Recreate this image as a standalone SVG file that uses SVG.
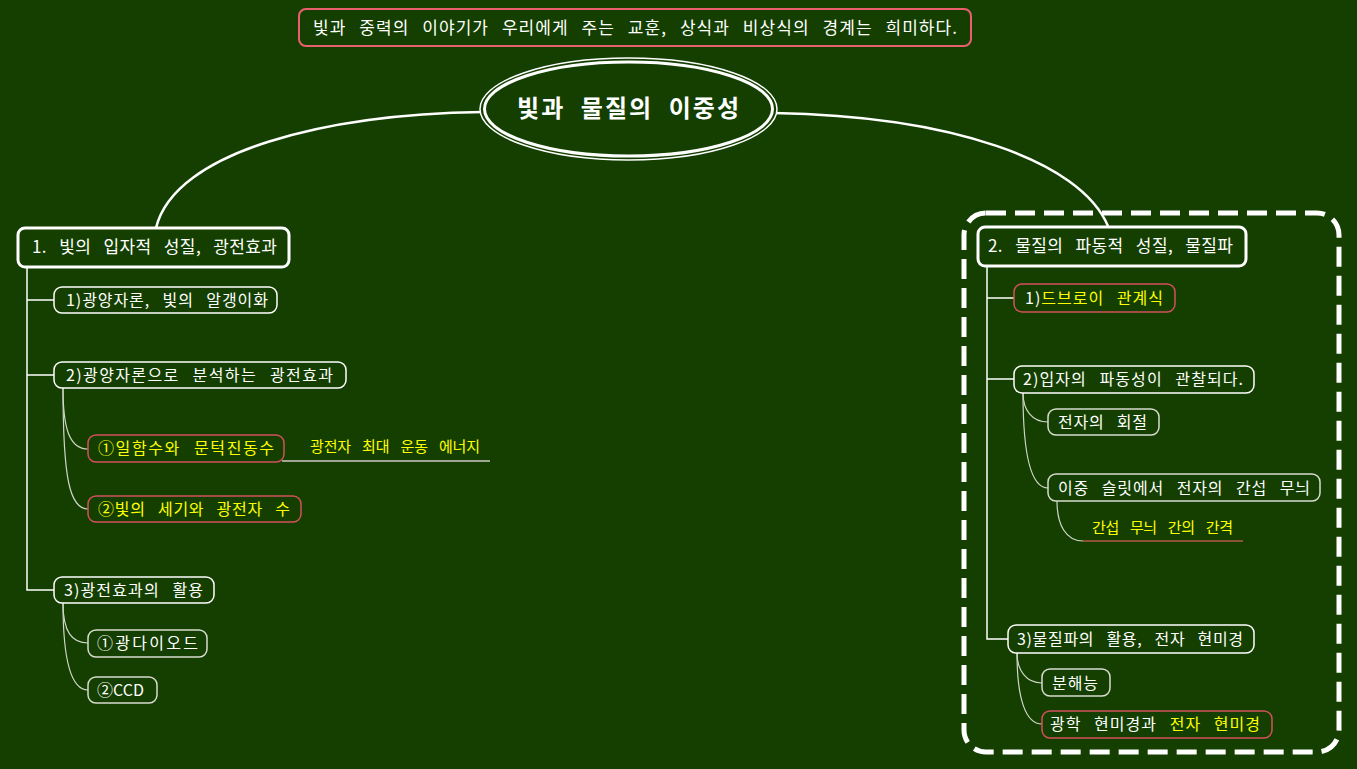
<svg xmlns="http://www.w3.org/2000/svg" width="1357" height="769" viewBox="0 0 1357 769">
<style>
text{font-family:"Noto Sans CJK KR","Malgun Gothic",sans-serif;fill:#ffffff;font-size:17px;word-spacing:8px}
.s{font-size:16px}
.l{font-size:15px}
.y{fill:#ffff00}
.box{fill:#143f00;stroke:#ffffff;stroke-width:1.5}
.main{fill:#143f00;stroke:#ffffff;stroke-width:3}
.red{fill:#143f00;stroke:#d2505c;stroke-width:1.5}
.sub{fill:#143f00;stroke:#d8dccf;stroke-width:1.5}
.ln{fill:none;stroke:#ffffff;stroke-width:1.5}
.ln2{fill:none;stroke:#d0d6c8;stroke-width:1.2}
.big{fill:none;stroke:#ffffff;stroke-width:2.5}
</style>
<rect width="1357" height="769" fill="#143f00"/>

<g id="connectors">
<path class="big" d="M483,112 C330,114 175,150 156,228"/>
<path class="big" d="M774,113 C950,116 1080,160 1108,226"/>
<path class="ln" d="M27,267 V590 H54 M27,300 H54 M27,375 H54"/>
<path class="ln2" d="M63,388 C63,430 70,449 88,449"/>
<path class="ln2" d="M63,388 C63,480 70,509 88,509"/>
<path class="ln2" d="M63,603 C63,632 72,643 88,643"/>
<path class="ln2" d="M63,603 C63,665 72,690 88,690"/>
<path fill="none" stroke="#a0a894" stroke-width="2" d="M282,461 H490"/>
<path class="ln" d="M987,266 V639 H1008 M987,298 H1014 M987,379 H1014"/>
<path class="ln2" d="M1023,393 C1023,410 1032,422 1048,422"/>
<path class="ln2" d="M1023,393 C1023,460 1032,488 1048,488"/>
<path class="ln2" d="M1057,501 C1057,525 1066,541 1083,541"/>
<path fill="none" stroke="#b05a40" stroke-width="1.5" d="M1083,541 H1243"/>
<path class="ln2" d="M1017,653 C1017,670 1026,683 1042,683"/>
<path class="ln2" d="M1017,653 C1017,700 1026,724 1042,724"/>
</g>

<g id="boundary">
<rect x="964" y="213" width="375" height="539" rx="22" fill="none" stroke="#ffffff" stroke-width="5" stroke-dasharray="20 9"/>
</g>

<g id="title">
<rect x="299" y="9" width="672" height="37" rx="7" fill="#143f00" stroke="#e8606e" stroke-width="2"/>
<text x="313" y="34" textLength="644" lengthAdjust="spacing">빛과 중력의 이야기가 우리에게 주는 교훈, 상식과 비상식의 경계는 희미하다.</text>
</g>

<g id="center">
<ellipse cx="628.5" cy="109" rx="148.5" ry="51" fill="#143f00" stroke="#ffffff" stroke-width="1.5"/>
<ellipse cx="628.5" cy="109" rx="144" ry="47" fill="#143f00" stroke="#ffffff" stroke-width="3"/>
<text x="517" y="117" style="font-size:24px;font-weight:bold" textLength="222" lengthAdjust="spacing">빛과 물질의 이중성</text>
</g>

<g id="n1">
<rect class="main" x="18" y="228" width="271" height="39" rx="7"/>
<text x="32" y="253" textLength="245" lengthAdjust="spacing">1. 빛의 입자적 성질, 광전효과</text>
</g>
<g id="n1-1">
<rect class="box" x="54" y="287" width="223" height="26" rx="8"/>
<text class="s" x="66" y="306" textLength="202" lengthAdjust="spacing">1)광양자론, 빛의 알갱이화</text>
</g>
<g id="n1-2">
<rect class="box" x="54" y="362" width="292" height="26" rx="8"/>
<text class="s" x="66" y="381" textLength="267" lengthAdjust="spacing">2)광양자론으로 분석하는 광전효과</text>
</g>
<g id="n1-2-1">
<rect class="red" x="88" y="435" width="196" height="27" rx="8"/>
<text class="s y" x="98" y="454" textLength="176" lengthAdjust="spacing">①일함수와 문턱진동수</text>
</g>
<g id="n1-2-1-label">
<text class="l y" x="310" y="452" textLength="170" lengthAdjust="spacing">광전자 최대 운동 에너지</text>
</g>
<g id="n1-2-2">
<rect class="red" x="88" y="496" width="213" height="26" rx="8"/>
<text class="s y" x="98" y="515" textLength="192" lengthAdjust="spacing">②빛의 세기와 광전자 수</text>
</g>
<g id="n1-3">
<rect class="box" x="54" y="577" width="160" height="26" rx="8"/>
<text class="s" x="64" y="596" textLength="139" lengthAdjust="spacing">3)광전효과의 활용</text>
</g>
<g id="n1-3-1">
<rect class="sub" x="88" y="630" width="119" height="27" rx="8"/>
<text class="s" x="97" y="649" textLength="101" lengthAdjust="spacing">①광다이오드</text>
</g>
<g id="n1-3-2">
<rect class="sub" x="88" y="677" width="69" height="26" rx="8"/>
<text class="s" x="97" y="696">②CCD</text>
</g>

<g id="n2">
<rect class="main" x="978" y="227" width="268" height="39" rx="7"/>
<text x="988" y="252" textLength="245" lengthAdjust="spacing">2. 물질의 파동적 성질, 물질파</text>
</g>
<g id="n2-1">
<rect class="red" x="1014" y="284" width="161" height="28" rx="8"/>
<text class="s" x="1025" y="304" textLength="138" lengthAdjust="spacing">1)<tspan class="y">드브로이 관계식</tspan></text>
</g>
<g id="n2-2">
<rect class="box" x="1014" y="366" width="240" height="27" rx="8"/>
<text class="s" x="1023" y="385" textLength="220" lengthAdjust="spacing">2)입자의 파동성이 관찰되다.</text>
</g>
<g id="n2-2-1">
<rect class="sub" x="1048" y="409" width="111" height="26" rx="8"/>
<text class="s" x="1058" y="428" textLength="89" lengthAdjust="spacing">전자의 회절</text>
</g>
<g id="n2-2-2">
<rect class="sub" x="1048" y="474" width="272" height="27" rx="8"/>
<text class="s" x="1058" y="494" textLength="252" lengthAdjust="spacing">이중 슬릿에서 전자의 간섭 무늬</text>
</g>
<g id="n2-2-2-label">
<text class="l y" x="1092" y="533" textLength="141" lengthAdjust="spacing">간섭 무늬 간의 간격</text>
</g>
<g id="n2-3">
<rect class="box" x="1008" y="625" width="246" height="28" rx="8"/>
<text class="s" x="1017" y="645" textLength="226" lengthAdjust="spacing">3)물질파의 활용, 전자 현미경</text>
</g>
<g id="n2-3-1">
<rect class="sub" x="1042" y="669" width="68" height="27" rx="8"/>
<text class="s" x="1052" y="689" textLength="46" lengthAdjust="spacing">분해능</text>
</g>
<g id="n2-3-2">
<rect class="red" x="1042" y="711" width="230" height="27" rx="8"/>
<text class="s" x="1050" y="730" textLength="210" lengthAdjust="spacing">광학 현미경과 <tspan class="y">전자 현미경</tspan></text>
</g>
</svg>
